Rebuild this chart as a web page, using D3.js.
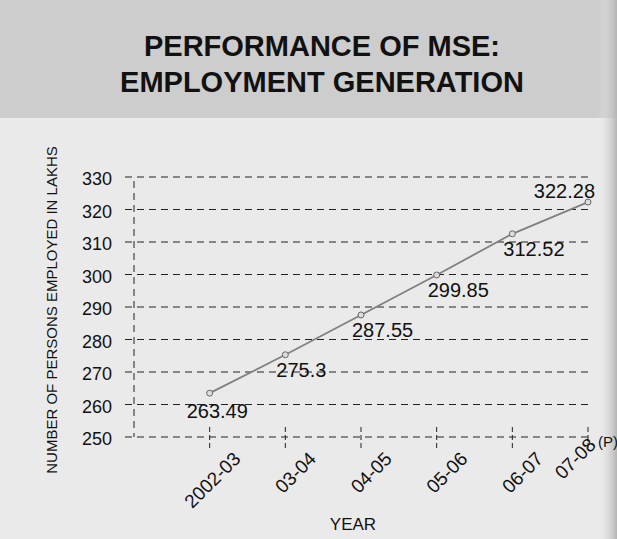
<!DOCTYPE html>
<html>
<head>
<meta charset="utf-8">
<script src="https://cdn.jsdelivr.net/npm/d3@7"></script>
<style>
  body { margin: 0; background: #ececec; }
  text { font-family: "Liberation Sans", Arial, sans-serif; fill: #111; }
</style>
</head>
<body>
<div id="chart"></div>
<script>
// Data
const years = ["2002-03", "03-04", "04-05", "05-06", "06-07", "07-08"];
const persons = [263.49, 275.3, 287.55, 299.85, 312.52, 322.28];
const yTicks = [250, 260, 270, 280, 290, 300, 310, 320, 330];

const W = 617, H = 539;

const svg = d3.select("#chart")
    .append("svg")
    .attr("width", W)
    .attr("height", H);

// Page background: darker title band, lighter body, scan shadow at right edge
svg.append("rect").attr("width", W).attr("height", H).attr("fill", "#eaeaea");
svg.append("rect").attr("width", W).attr("height", 118).attr("fill", "#cdcdcd");
const grad = svg.append("defs").append("linearGradient").attr("id", "edge");
grad.append("stop").attr("offset", "0%").attr("stop-color", "#ececec").attr("stop-opacity", 0);
grad.append("stop").attr("offset", "100%").attr("stop-color", "#b4b4b4");
svg.append("rect").attr("x", 598).attr("width", 19).attr("height", H).attr("fill", "url(#edge)");

// Title
svg.append("text")
    .attr("x", 322).attr("y", 56)
    .attr("text-anchor", "middle")
    .attr("font-size", 29).attr("font-weight", "bold")
    .text("PERFORMANCE OF MSE:");
svg.append("text")
    .attr("x", 322).attr("y", 92)
    .attr("text-anchor", "middle")
    .attr("font-size", 29).attr("font-weight", "bold")
    .text("EMPLOYMENT GENERATION");

// Scales: category axis starts one step before the first year
const x = d3.scaleLinear().domain([-1, years.length - 1]).range([134, 588]);
const y = d3.scaleLinear().domain([250, 330]).range([437, 177]);

const dash = "7,5";

// Horizontal dashed grid (incl. little ticks left of axis)
svg.append("g")
    .selectAll("line")
    .data(yTicks)
    .join("line")
    .attr("x1", 125).attr("x2", 591)
    .attr("y1", d => y(d)).attr("y2", d => y(d))
    .attr("stroke", "#222").attr("stroke-width", 1)
    .attr("stroke-dasharray", dash);

// Y axis line
svg.append("line")
    .attr("x1", 134).attr("x2", 134)
    .attr("y1", 181).attr("y2", 437)
    .attr("stroke", "#222").attr("stroke-dasharray", dash);

// X ticks
svg.append("g")
    .selectAll("line")
    .data(years)
    .join("line")
    .attr("x1", (d, i) => x(i)).attr("x2", (d, i) => x(i))
    .attr("y1", 427).attr("y2", 448)
    .attr("stroke", "#222").attr("stroke-dasharray", "5,3");

// Y tick labels
svg.append("g")
    .selectAll("text")
    .data(yTicks)
    .join("text")
    .attr("x", 112)
    .attr("y", d => y(d) + 8)
    .attr("text-anchor", "end")
    .attr("font-size", 18)
    .text(d => d);

// X tick labels, rotated
svg.append("g")
    .selectAll("text")
    .data(years)
    .join("text")
    .attr("transform", (d, i) => i === years.length - 1
        ? `translate(${x(i) + 9},${446}) rotate(-45)`
        : `translate(${x(i) + 32},${460}) rotate(-45)`)
    .attr("text-anchor", "end")
    .attr("font-size", 19)
    .text(d => d);

svg.append("text")
    .attr("x", 598).attr("y", 447)
    .attr("font-size", 15)
    .text("(P)");

// Axis titles
svg.append("text")
    .attr("x", 353).attr("y", 530)
    .attr("text-anchor", "middle")
    .attr("font-size", 17)
    .text("YEAR");

svg.append("text")
    .attr("transform", "translate(57,310) rotate(-90)")
    .attr("text-anchor", "middle")
    .attr("font-size", 15)
    .text("NUMBER OF PERSONS EMPLOYED IN LAKHS");

// Line and markers
const line = d3.line()
    .x((d, i) => x(i))
    .y(d => y(d));

svg.append("path")
    .datum(persons)
    .attr("fill", "none")
    .attr("stroke", "#808080")
    .attr("stroke-width", 1.8)
    .attr("d", line);

svg.append("g")
    .selectAll("circle")
    .data(persons)
    .join("circle")
    .attr("cx", (d, i) => x(i))
    .attr("cy", d => y(d))
    .attr("r", 3)
    .attr("fill", "#ddd")
    .attr("stroke", "#666")
    .attr("stroke-width", 1);

// Data labels
const last = persons.length - 1;
svg.append("g")
    .selectAll("text")
    .data(persons)
    .join("text")
    .attr("x", (d, i) => x(i) + (i === 0 ? -23 : i === last ? 7 : -9))
    .attr("y", (d, i) => y(d) + (i === 0 ? 25 : i === last ? -4 : 22))
    .attr("text-anchor", (d, i) => i === last ? "end" : "start")
    .attr("font-size", 20)
    .text(d => d);
</script>
</body>
</html>
